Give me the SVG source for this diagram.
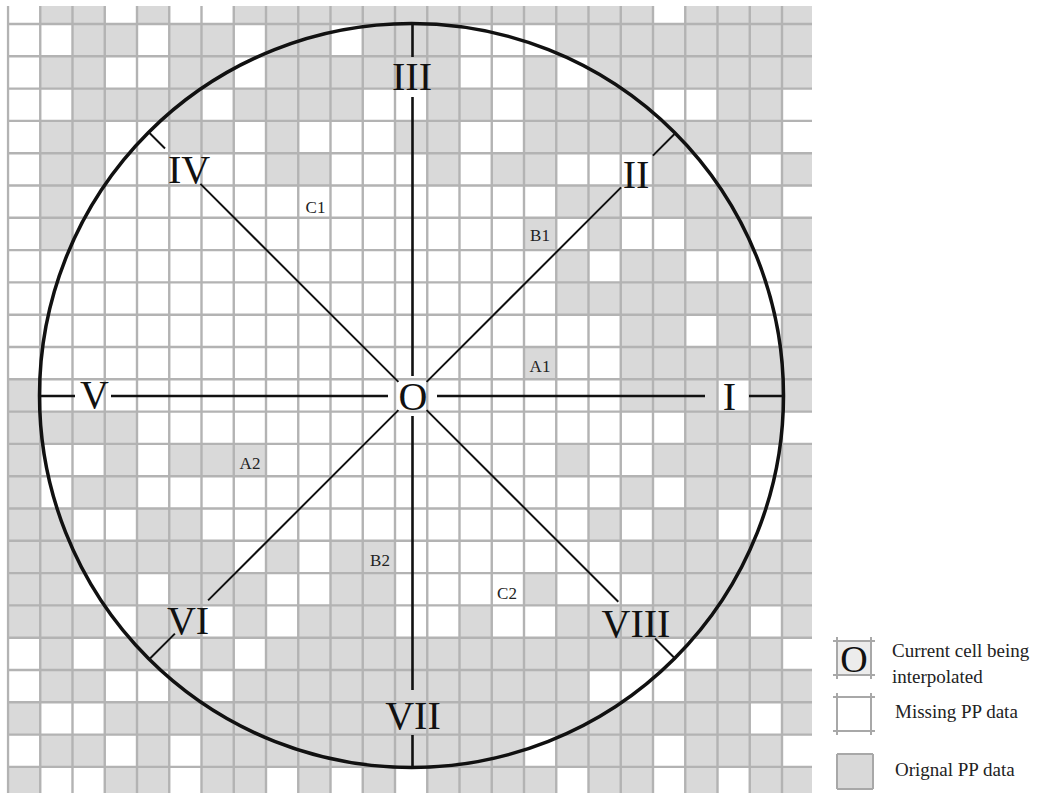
<svg xmlns="http://www.w3.org/2000/svg" width="1037" height="793" viewBox="0 0 1037 793">
<style>
.cell{fill:#d9d9d9}
.grid{stroke:#b3b3b3;stroke-width:2.4;fill:none;vector-effect:non-scaling-stroke}
.ax{stroke:#111;stroke-width:2.6;fill:none}
.dg{stroke:#111;stroke-width:2;fill:none}
.num{font-family:"Liberation Serif","Times New Roman",serif;font-size:40px;fill:#111;text-anchor:middle}
.lb{font-family:"Liberation Serif","Times New Roman",serif;font-size:17px;fill:#222;text-anchor:middle}
.lg{font-family:"Liberation Serif","Times New Roman",serif;font-size:19px;fill:#222}
.box{stroke:#a8a8a8;stroke-width:2;fill:none}
</style>
<defs>
<clipPath id="gc"><rect x="6.5" y="6" width="805.5" height="787"/></clipPath>
</defs>
<rect width="1037" height="793" fill="#fff"/>
<g id="grid" clip-path="url(#gc)">
<g transform="translate(8,-8.3) scale(32.25,32.3)">
<path class="cell" d="M1 0h2v1h-2zM4 0h1v1h-1zM7 0h13v1h-13zM21 0h4v1h-4z
M2 1h2v1h-2zM5 1h2v1h-2zM8 1h2v1h-2zM11 1h3v1h-3zM17 1h8v1h-8z
M1 2h2v1h-2zM5 2h2v1h-2zM8 2h6v1h-6zM16 2h1v1h-1zM18 2h7v1h-7z
M2 3h4v1h-4zM7 3h4v1h-4zM13 3h2v1h-2zM16 3h4v1h-4zM22 3h2v1h-2z
M1 4h2v1h-2zM5 4h2v1h-2zM8 4h1v1h-1zM12 4h2v1h-2zM16 4h8v1h-8z
M1 5h2v1h-2zM8 5h2v1h-2zM13 5h1v1h-1zM15 5h2v1h-2zM20 5h1v1h-1zM22 5h1v1h-1zM24 5h1v1h-1z
M1 6h1v1h-1zM17 6h2v1h-2zM20 6h4v1h-4z
M1 7h1v1h-1zM16 7h1v1h-1zM18 7h1v1h-1zM21 7h2v1h-2zM24 7h1v1h-1z
M17 8h1v1h-1zM19 8h2v1h-2zM24 8h1v1h-1z
M17 9h6v1h-6zM24 9h1v1h-1z
M19 10h2v1h-2zM22 10h1v1h-1zM24 10h1v1h-1z
M16 11h1v1h-1zM19 11h6v1h-6z
M0 12h1v1h-1zM19 12h3v1h-3zM23 12h2v1h-2z
M0 13h4v1h-4zM21 13h3v1h-3z
M0 14h1v1h-1zM3 14h1v1h-1zM5 14h3v1h-3zM17 14h1v1h-1zM20 14h3v1h-3zM24 14h1v1h-1z
M0 15h1v1h-1zM2 15h2v1h-2zM19 15h1v1h-1zM21 15h2v1h-2zM24 15h1v1h-1z
M0 16h2v1h-2zM4 16h2v1h-2zM18 16h1v1h-1zM20 16h2v1h-2zM24 16h1v1h-1z
M0 17h7v1h-7zM8 17h1v1h-1zM10 17h2v1h-2zM19 17h6v1h-6z
M0 18h2v1h-2zM3 18h1v1h-1zM5 18h3v1h-3zM10 18h2v1h-2zM16 18h1v1h-1zM20 18h5v1h-5z
M0 19h3v1h-3zM4 19h2v1h-2zM7 19h1v1h-1zM9 19h3v1h-3zM14 19h1v1h-1zM17 19h6v1h-6zM24 19h1v1h-1z
M1 20h1v1h-1zM3 20h2v1h-2zM6 20h1v1h-1zM8 20h12v1h-12zM22 20h2v1h-2z
M1 21h2v1h-2zM5 21h1v1h-1zM7 21h11v1h-11zM21 21h4v1h-4z
M0 22h1v1h-1zM3 22h20v1h-20zM24 22h1v1h-1z
M1 23h2v1h-2zM4 23h1v1h-1zM6 23h10v1h-10zM17 23h3v1h-3zM21 23h3v1h-3z
M0 24h1v1h-1zM3 24h2v1h-2zM6 24h2v1h-2zM9 24h1v1h-1zM11 24h1v1h-1zM13 24h4v1h-4zM18 24h2v1h-2zM21 24h1v1h-1zM23 24h2v1h-2z"/>
<path class="grid" d="M0 0V25M1 0V25M2 0V25M3 0V25M4 0V25M5 0V25M6 0V25M7 0V25M8 0V25M9 0V25M10 0V25M11 0V25M12 0V25M13 0V25M14 0V25M15 0V25M16 0V25M17 0V25M18 0V25M19 0V25M20 0V25M21 0V25M22 0V25M23 0V25M24 0V25M25 0V25
M0 1H25M0 2H25M0 3H25M0 4H25M0 5H25M0 6H25M0 7H25M0 8H25M0 9H25M0 10H25M0 11H25M0 12H25M0 13H25M0 14H25M0 15H25M0 16H25M0 17H25M0 18H25M0 19H25M0 20H25M0 21H25M0 22H25M0 23H25M0 24H25"/>
</g>
</g>
<g id="circle"><circle cx="411.5" cy="395.5" r="372" fill="none" stroke="#111" stroke-width="3.5"/></g>
<g id="connectors">
<path class="ax" d="M40 396H75M111 396H388M437 396H705M749 396H783"/>
<path class="ax" d="M412.5 23V57M412.5 97V376M412.5 416V690M412.5 735V768"/>
<path class="dg" d="M426.6 381.9L621.1 187.4M652.9 155.6L675.5 133"/>
<path class="dg" d="M398.4 381.9L200.4 183.9M165 148.5L149.5 133"/>
<path class="dg" d="M398.4 410.1L208.1 600.4M174.9 633.6L149.5 659"/>
<path class="dg" d="M426.6 410.1L618.3 601.8M655 638.5L675.5 659"/>
</g>
<g id="node-O"><text class="num" x="413" y="410">O</text></g>
<g id="node-I"><text class="num" x="729.5" y="410">I</text></g>
<g id="node-II"><text class="num" x="636" y="188">II</text></g>
<g id="node-III"><text class="num" x="412" y="90">III</text></g>
<g id="node-IV"><text class="num" x="189" y="183">IV</text></g>
<g id="node-V"><text class="num" x="94.5" y="408">V</text></g>
<g id="node-VI"><text class="num" x="188" y="634">VI</text></g>
<g id="node-VII"><text class="num" x="413" y="729">VII</text></g>
<g id="node-VIII"><text class="num" x="636" y="637">VIII</text></g>
<g id="label-A1"><text class="lb" x="540" y="372">A1</text></g>
<g id="label-B1"><text class="lb" x="540" y="241">B1</text></g>
<g id="label-C1"><text class="lb" x="315.5" y="213">C1</text></g>
<g id="label-A2"><text class="lb" x="250" y="469">A2</text></g>
<g id="label-B2"><text class="lb" x="380" y="566">B2</text></g>
<g id="label-C2"><text class="lb" x="507" y="599">C2</text></g>
<g id="legend-current">
<rect x="837" y="641" width="34" height="34" fill="#ececec"/>
<path class="box" d="M833 641H875M833 675H875M837 637V679M871 637V679"/>
<text class="num" x="854" y="672" style="font-size:38px">O</text>
<text class="lg" x="892" y="657">Current cell being</text>
<text class="lg" x="892" y="683">interpolated</text>
</g>
<g id="legend-missing">
<rect x="837" y="697" width="34" height="34" fill="#fff"/>
<path class="box" d="M833 697H875M833 731H875M837 693V735M871 693V735"/>
<text class="lg" x="895" y="718">Missing PP data</text>
</g>
<g id="legend-original">
<rect x="837" y="754" width="36" height="35" class="cell"/>
<path class="box" d="M837 754H873M837 789H873M837 754V789M873 754V789"/>
<text class="lg" x="895" y="776">Orignal PP data</text>
</g>
</svg>
